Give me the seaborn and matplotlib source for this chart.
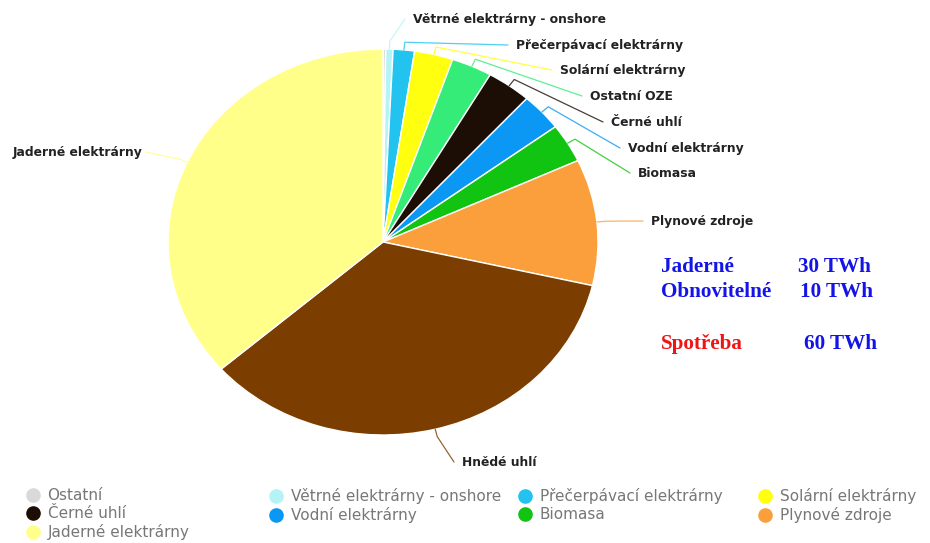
import matplotlib
matplotlib.use("Agg")
import numpy as np
import matplotlib.pyplot as plt
import seaborn as sns
from matplotlib.lines import Line2D

# data (share of production, %)
sources = [
    "Ostatní", "Větrné elektrárny - onshore", "Přečerpávací elektrárny",
    "Solární elektrárny", "Ostatní OZE", "Černé uhlí", "Vodní elektrárny",
    "Biomasa", "Plynové zdroje", "Hnědé uhlí", "Jaderné elektrárny",
]
shares = [0.2, 0.55, 1.6, 2.9, 3.05, 3.35, 3.15, 3.25, 10.55, 34.9, 36.4]
colors = [
    "#d9d9d9", "#b5f4f6", "#22c3ef", "#ffff0f", "#35ec78", "#1c0e05",
    "#0b97f4", "#12c412", "#fb9f3c", "#7b3e00", "#ffff8a",
]

# legend entries visible in the reference (row by row, 4 per row)
legend_sources = [
    "Ostatní", "Větrné elektrárny - onshore", "Přečerpávací elektrárny", "Solární elektrárny",
    "Černé uhlí", "Vodní elektrárny", "Biomasa", "Plynové zdroje",
    "Jaderné elektrárny",
]

summary_names = ["Jaderné", "Obnovitelné", "Spotřeba"]
summary_values = ["30 TWh", "10 TWh", "60 TWh"]
summary_colors = ["#1414e6", "#1414e6", "#f01414"]

# layout (pixels of the 930x543 picture)
CX, CY, RX, RY = 383, 242, 215, 193
label_pos = {
    "Větrné elektrárny - onshore": (413, 19, "left"),
    "Přečerpávací elektrárny": (516, 45, "left"),
    "Solární elektrárny": (560, 70, "left"),
    "Ostatní OZE": (590, 96, "left"),
    "Černé uhlí": (611, 122, "left"),
    "Vodní elektrárny": (628, 148, "left"),
    "Biomasa": (638, 173, "left"),
    "Plynové zdroje": (651, 221, "left"),
    "Hnědé uhlí": (462, 462, "left"),
    "Jaderné elektrárny": (143, 152, "right"),
}


def px(x, y):
    return (x - CX) / RX, (CY - y) / RY


sns.set_theme(style="white")
plt.rcParams["font.family"] = ["DejaVu Sans"]

fig = plt.figure(figsize=(9.3, 5.43), dpi=100)
ax = fig.add_axes([0, 0, 1, 1])

wedges, _ = ax.pie(
    shares,
    colors=colors,
    startangle=90,
    counterclock=False,
    radius=1,
    wedgeprops={"edgecolor": "white", "linewidth": 1},
)
ax.set_aspect("auto")
ax.set_xlim(px(0, 0)[0], px(930, 0)[0])
ax.set_ylim(px(0, 543)[1], px(0, 0)[1])
ax.axis("off")

# labels with leader lines
for w, name, col in zip(wedges, sources, colors):
    if name not in label_pos:
        continue
    lx, ly, ha = label_pos[name]
    mid = np.deg2rad((w.theta1 + w.theta2) / 2)
    x0, y0 = np.cos(mid), np.sin(mid)
    x1, y1 = 1.04 * x0, 1.04 * y0
    ex, ey = px(lx - 8 if ha == "left" else lx + 3, ly)
    ax.plot([x0, x1, ex], [y0, y1, ey], color=col, lw=0.9, alpha=0.8,
            solid_capstyle="round")
    tx, ty = px(lx, ly)
    ax.text(tx, ty, name, ha=ha, va="center", fontsize=8.9,
            fontweight="bold", color="#222222")

# summary text on the right
for i, (n, v, c) in enumerate(zip(summary_names, summary_values, summary_colors)):
    y = [267, 292, 344][i]
    vx = [798, 800, 804][i]
    ax.text(*px(661, y), n, ha="left", va="center", fontsize=15.2,
            fontweight="bold", color=c, family=["Liberation Serif", "DejaVu Serif"])
    ax.text(*px(vx, y), v, ha="left", va="center", fontsize=15.2,
            fontweight="bold", color="#1414e6", family=["Liberation Serif", "DejaVu Serif"])

# legend, one block per column
color_of = dict(zip(sources, colors))
col_x = [27, 270, 519, 759]
for j in range(4):
    names = legend_sources[j::4]
    handles = [Line2D([], [], ls="", marker="o", markersize=9.5,
                      markerfacecolor=color_of[n], markeredgecolor=color_of[n])
               for n in names]
    leg = fig.legend(
        handles, names, loc="upper left",
        bbox_to_anchor=(col_x[j] / 930, 1 - 488 / 543),
        frameon=False, handlelength=0.8, handletextpad=0.55,
        labelspacing=0.2, borderaxespad=0, borderpad=0,
        prop={"family": ["DejaVu Sans"], "size": 11},
    )
    for t in leg.get_texts():
        t.set_color("#777777")

fig.savefig("out.png", dpi=100)
